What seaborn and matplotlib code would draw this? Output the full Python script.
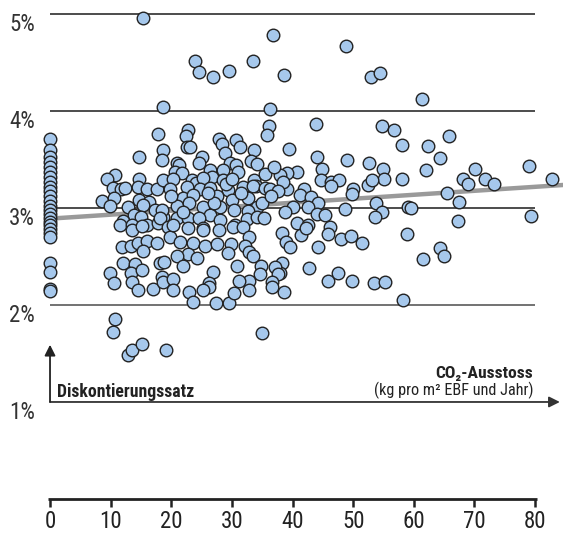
import numpy as np
import matplotlib
matplotlib.use("Agg")
import matplotlib.pyplot as plt
import seaborn as sns
from matplotlib import font_manager

sns.set_theme(style="white")
installed = {f.name for f in font_manager.fontManager.ttflist}
narrow_candidates = ["Liberation Sans Narrow", "Roboto Condensed", "DejaVu Sans Condensed",
                     "Open Sans Condensed", "Noto Sans Condensed", "Arial Narrow", "Roboto"]
main_font = next((f for f in narrow_candidates if f in installed), "DejaVu Sans")
plt.rcParams["font.family"] = [main_font, "DejaVu Sans"]

# CO2 emissions (kg per m2 EBF and year) and discount rate (%) per building
co2 = [
    0, 0, 0, 0, 0, 0, 0, 0, 0, 0, 0, 0, 0, 0, 0, 0, 0, 0, 0, 0, 0, 0, 0, 0, 0,
    15.3, 23.9, 24.6, 26.9, 29.5, 33.5, 36.8, 38.6, 48.8, 53.0, 54.5, 61.4, 18.6, 36.3,
    43.9, 54.8, 56.8, 65.8, 62.3, 64.3, 58.1, 79.0,
    39.4, 44.0, 49.0, 52.6, 55.0, 44.9, 55.1, 58.1, 40.8, 39.1, 38.0, 44.7, 46.4, 47.7,
    46.4, 50.0, 49.8, 52.5, 53.1, 39.1, 41.9, 41.3, 43.1, 44.2, 42.6, 40.1, 38.8, 44.1,
    45.4, 48.7, 53.8, 54.8, 53.6, 59.1, 40.8, 42.6, 46.2,
    45.9, 41.4, 42.2, 38.3, 38.9, 39.6, 44.2, 48.0, 49.7, 51.5, 58.9, 38.3, 38.0, 42.7,
    45.9, 47.5, 49.8, 53.5, 55.3, 58.2, 38.6,
    62.1, 68.2, 69.0, 70.1, 71.8, 73.3, 82.8, 65.5, 67.5, 59.6, 67.3, 79.4, 64.4, 65.0, 61.6,
    17.8, 18.6, 18.5, 14.7, 10.7, 9.4, 10.4, 11.7, 12.4, 14.7, 14.5, 16.0, 17.7, 18.6,
    8.6, 10.6, 9.9, 12.9, 14.7, 16.3, 15.3, 17.3, 13.9, 15.0, 18.6, 12.0, 11.6, 13.5, 16.0, 17.8,
    13.5, 15.2, 11.9, 13.4, 14.5, 16.0, 15.3, 17.7, 12.0, 14.0, 13.4, 15.2, 9.9, 10.6,
    13.5, 14.5, 17.0, 18.2, 18.5, 18.6, 10.7, 10.4, 12.9, 13.5, 15.2, 19.1,
    36.1, 35.8, 22.8, 22.4, 22.6, 23.1, 27.9, 28.4, 30.7, 31.4, 28.9, 33.7,
    25.1, 24.6, 21.0, 21.3, 29.7, 30.7, 33.2, 34.2, 20.6, 21.8, 26.4, 26.7, 28.5, 31.0,
    20.3, 23.4, 24.0, 25.2, 28.5, 33.7, 34.0, 38.4, 19.8, 22.6, 24.8, 26.4, 29.4, 31.8,
    33.5, 35.5, 36.3, 37.6, 21.9, 23.6, 27.6, 30.0, 32.7, 21.0, 25.2, 28.1, 30.4, 34.2,
    32.7, 18.5, 18.2, 21.0, 22.8, 26.4, 24.6, 32.5, 34.2, 35.3, 19.5, 25.2, 30.5,
    27.0, 29.0, 31.5, 23.0, 26.0, 35.0, 36.5, 20.0, 22.0, 28.0, 30.0, 35.5, 37.0,
    25.2, 27.9, 30.2, 31.8, 32.9, 19.8, 21.5, 23.6, 25.6, 27.6, 29.9, 32.2, 32.8, 33.5,
    29.4, 22.8, 21.0, 24.3, 18.8, 21.9, 30.9, 26.9, 34.8, 34.7, 37.1, 37.6, 36.6, 36.6,
    32.9, 32.9, 31.2, 20.3, 20.3, 26.2, 26.2, 25.2, 22.9, 23.6, 27.4, 29.5, 30.4, 35.0,
    20.3, 22.8,
]
rate = [
    3.71, 3.60, 3.53, 3.47, 3.42, 3.37, 3.32, 3.27, 3.22, 3.17, 3.12, 3.07, 3.02, 2.98,
    2.94, 2.90, 2.86, 2.82, 2.78, 2.74, 2.70, 2.43, 2.34, 2.16, 2.14,
    4.96, 4.52, 4.40, 4.35, 4.41, 4.52, 4.78, 4.37, 4.67, 4.35, 4.39, 4.12, 4.04, 4.02,
    3.87, 3.84, 3.80, 3.74, 3.64, 3.52, 3.65, 3.43,
    3.61, 3.53, 3.49, 3.46, 3.40, 3.40, 3.30, 3.30, 3.37, 3.36, 3.34, 3.29, 3.27, 3.29,
    3.23, 3.20, 3.14, 3.24, 3.29, 3.20, 3.20, 3.13, 3.11, 3.05, 3.01, 3.01, 2.96, 2.94,
    2.93, 2.99, 3.05, 2.96, 2.91, 3.01, 2.84, 2.82, 2.80,
    2.73, 2.72, 2.79, 2.74, 2.65, 2.60, 2.60, 2.68, 2.71, 2.64, 2.73, 2.43, 2.33, 2.38,
    2.25, 2.33, 2.25, 2.23, 2.24, 2.05, 2.13,
    3.39, 3.30, 3.25, 3.40, 3.30, 3.25, 3.30, 3.15, 3.06, 3.00, 2.87, 2.92, 2.59, 2.50, 2.47,
    3.76, 3.60, 3.49, 3.53, 3.34, 3.30, 3.21, 3.20, 3.21, 3.30, 3.22, 3.20, 3.20, 3.29,
    3.07, 3.10, 3.02, 3.01, 3.08, 3.06, 3.03, 2.98, 2.93, 2.91, 2.91, 2.87, 2.82, 2.82, 2.82, 2.84,
    2.77, 2.81, 2.60, 2.61, 2.64, 2.66, 2.56, 2.64, 2.43, 2.42, 2.33, 2.36, 2.33, 2.23,
    2.24, 2.15, 2.16, 2.43, 2.29, 2.24, 1.86, 1.72, 1.48, 1.54, 1.60, 1.54,
    3.84, 3.75, 3.80, 3.74, 3.63, 3.63, 3.71, 3.66, 3.70, 3.63, 3.57, 3.60,
    3.53, 3.46, 3.46, 3.44, 3.46, 3.44, 3.48, 3.45, 3.37, 3.36, 3.39, 3.32, 3.39, 3.37,
    3.30, 3.29, 3.26, 3.31, 3.29, 3.29, 3.23, 3.27, 3.20, 3.22, 3.20, 3.21, 3.19, 3.22,
    3.23, 3.21, 3.20, 3.18, 3.10, 3.13, 3.12, 3.08, 3.10, 3.02, 3.01, 3.01, 2.98, 3.01,
    2.97, 2.98, 2.90, 2.90, 2.90, 2.93, 2.90, 2.89, 2.91, 2.90, 2.80, 2.79, 2.82,
    3.05, 3.25, 3.15, 3.05, 3.15, 3.05, 3.12, 3.12, 2.96, 2.88, 3.30, 3.35, 3.42,
    2.77, 2.77, 2.80, 2.80, 2.70, 2.70, 2.65, 2.64, 2.61, 2.63, 2.63, 2.61, 2.55, 2.50,
    2.54, 2.53, 2.50, 2.48, 2.44, 2.40, 2.40, 2.34, 2.40, 2.32, 2.39, 2.32, 2.24, 2.19,
    2.25, 2.15, 2.25, 2.27, 2.15, 2.23, 2.19, 2.15, 2.13, 2.03, 2.02, 2.02, 2.12, 1.71,
    2.82, 2.79,
]

# linear trend of the discount rate over CO2 emissions
trend_intercept = 2.89
trend_slope = 0.0041

grid_levels = [2, 3, 4, 5]
y_ticks = [1, 2, 3, 4, 5]
y_tick_labels = ["1%", "2%", "3%", "4%", "5%"]
x_ticks = [0, 10, 20, 30, 40, 50, 60, 70, 80]
y_axis_title = "Diskontierungssatz"
x_axis_title = "CO\u2082-Ausstoss"
x_axis_unit = "(kg pro m\u00b2 EBF und Jahr)"

fig = plt.figure(figsize=(5.63, 5.34), dpi=100)
ax = fig.add_axes([0, 0, 1, 1])
ax.set_xlim(-8.25, 84.62)
ax.set_ylim(-0.361, 5.144)
ax.axis("off")

ink = "#222222"

# horizontal reference lines
for lvl in grid_levels:
    shade = "#2e2e2e" if lvl > 2 else "#5a5a5a"
    ax.plot([0, 80], [lvl, lvl], color=shade, lw=1.2, zorder=1, solid_capstyle="butt")

trend_x = np.array([0, ax.get_xlim()[1]])
sns.lineplot(x=trend_x, y=trend_intercept + trend_slope * trend_x, color="#9a9a9a",
             lw=3.2, zorder=2, ax=ax)

sns.scatterplot(x=co2, y=rate, s=82, color="#a6c8ec", edgecolor=ink, linewidth=1.0,
                zorder=3, ax=ax, legend=False, clip_on=False)

# arrows for the two quantities
ax.annotate("", xy=(84.1, 1), xytext=(0, 1),
            arrowprops=dict(arrowstyle="-|>", color="#333333", lw=1.3, mutation_scale=16,
                            shrinkA=0, shrinkB=0), zorder=4)
ax.annotate("", xy=(0, 1.59), xytext=(0, 1),
            arrowprops=dict(arrowstyle="-|>", color=ink, lw=1.3, mutation_scale=16,
                            shrinkA=0, shrinkB=0), zorder=4)

ax.text(1.15, 1.05, y_axis_title, fontsize=12.8, fontweight="bold", color=ink,
        ha="left", va="baseline")
ax.text(79.7, 1.25, x_axis_title, fontsize=12.6, fontweight="bold", color=ink,
        ha="right", va="baseline")
ax.text(79.7, 1.07, x_axis_unit, fontsize=11.7, color=ink, ha="right", va="baseline")

# y labels sit just below their reference lines
for v, lab in zip(y_ticks, y_tick_labels):
    ax.text(-4.6, v - 0.11, lab, fontsize=16.5, color="#333333", ha="center", va="center")

# bottom scale
ax.plot([-0.4, 80.4], [0, 0], color=ink, lw=2, solid_capstyle="butt")
for v in x_ticks:
    ax.plot([v, v], [0, -0.08], color=ink, lw=1.8, solid_capstyle="butt")
    ax.text(v, -0.235, str(v), fontsize=16.5, color="#222222", ha="center", va="center")

fig.savefig("out.png", dpi=100)
